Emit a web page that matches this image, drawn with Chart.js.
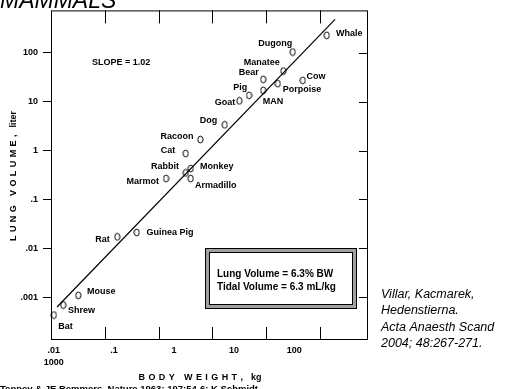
<!DOCTYPE html>
<html>
<head>
<meta charset="utf-8">
<script src="https://cdn.jsdelivr.net/npm/chart.js@4/dist/chart.umd.min.js"></script>
<style>
  html, body { margin: 0; padding: 0; background: #fff; }
  #wrap { width: 505px; height: 389px; }
</style>
</head>
<body>
<div id="wrap"><canvas id="c" width="505" height="389"></canvas></div>
<script>
// Lung volume against body weight across mammals, log–log scales
const animals = ['Whale', 'Dugong', 'Manatee', 'Bear', 'Cow', 'Porpoise', 'MAN', 'Pig', 'Goat', 'Dog',
  'Racoon', 'Cat', 'Rabbit', 'Monkey', 'Armadillo', 'Marmot', 'Guinea Pig', 'Rat', 'Mouse', 'Shrew', 'Bat'];
const bodyWeightKg = [1360, 316, 211, 89, 486, 166, 89, 48.4, 31.9, 17.0,
  5.97, 3.19, 3.19, 3.95, 3.95, 1.37, 0.389, 0.169, 0.0316, 0.0166, 0.0111];
const lungVolumeL = [228, 104, 42.5, 28.7, 27.4, 23.4, 17.1, 13.5, 10.4, 3.37,
  1.68, 0.868, 0.348, 0.428, 0.267, 0.267, 0.0210, 0.0171, 0.00108, 0.000686, 0.000428];

// regression line ends (slope 1.02)
const fitWeightKg = [0.0127, 1945];
const fitVolumeL = [0.000625, 484];

const yTickValues = [0.001, 0.01, 0.1, 1, 10, 100];
const yTickLabels = ['.001', '.01', '.1', '1', '10', '100'];
const xTickValues = [0.01, 0.1, 1, 10, 100];
const xTickLabels = [['.01', '1000'], '.1', '1', '10', '100'];
const xMarkValues = [0.1, 1, 10, 100, 1000];

const slopeText = 'SLOPE = 1.02';
const boxLines = ['Lung Volume = 6.3% BW', 'Tidal Volume = 6.3 mL/kg'];
const citation = ['Villar, Kacmarek,', 'Hedenstierna.', 'Acta Anaesth Scand', '2004; 48:267-271.'];
const sourceNote = 'Tenney & JE Remmers, Nature 1963; 197:54-6; K Schmidt';

// where each name sits relative to its marker (px)
const labelOffsets = {
  'Whale': [22.6, -2.3], 'Dugong': [-17.5, -8.4], 'Manatee': [-21.6, -8], 'Bear': [-14.5, -7.3],
  'Cow': [13.3, -3.3], 'Porpoise': [24.3, 5.7], 'MAN': [9.7, 11], 'Pig': [-8.7, -8.3],
  'Goat': [-14.3, 1.7], 'Dog': [-16.2, -3.8], 'Racoon': [-23.3, -3.3], 'Cat': [-17.7, -3.3],
  'Rabbit': [-20.7, -6], 'Monkey': [26, -1.6], 'Armadillo': [25.1, 6.7], 'Marmot': [-23.3, 3.4],
  'Guinea Pig': [33.3, 0.4], 'Rat': [-14.8, 2.6], 'Mouse': [23, -3.6], 'Shrew': [18.2, 5.7], 'Bat': [11.5, 11]
};

const FONT = '"Liberation Sans", Arial, Helvetica, sans-serif';

// open "O" marker
const ring = document.createElement('canvas');
ring.width = 7; ring.height = 9;
(function () {
  const g = ring.getContext('2d');
  g.strokeStyle = '#000'; g.lineWidth = 1;
  g.beginPath(); g.ellipse(3.5, 4.5, 2.6, 3.4, 0, 0, Math.PI * 2); g.stroke();
})();

// letter-spaced text runs, centred on cx
function drawRuns(ctx, runs, cx, y, gap) {
  const meas = runs.map(r => {
    const ws = [...r.t].map(c => ctx.measureText(c).width);
    return { ws, w: ws.reduce((a, b) => a + b, 0) + r.s * (ws.length - 1) };
  });
  const total = meas.reduce((a, b) => a + b.w, 0) + gap * (runs.length - 1);
  let x = cx - total / 2;
  ctx.textAlign = 'left';
  runs.forEach((r, i) => {
    [...r.t].forEach((c, j) => { ctx.fillText(c, x, y); x += meas[i].ws[j] + r.s; });
    x += gap - r.s;
  });
}

const decor = {
  id: 'decor',
  beforeDatasetsDraw(chart) {
    const { ctx, chartArea: a, scales } = chart;
    ctx.save();
    ctx.strokeStyle = '#000';
    ctx.lineWidth = 1;
    ctx.strokeRect(a.left + 0.5, a.top + 0.5, a.right - a.left - 1, a.bottom - a.top - 1);
    ctx.beginPath();
    xMarkValues.forEach(v => {
      const x = Math.round(scales.x.getPixelForValue(v)) + 0.5;
      ctx.moveTo(x, a.top); ctx.lineTo(x, a.top + 13);
      ctx.moveTo(x, a.bottom); ctx.lineTo(x, a.bottom - 13);
    });
    yTickValues.forEach(v => {
      const y = Math.round(scales.y.getPixelForValue(v)) + 0.5;
      ctx.moveTo(a.right, y); ctx.lineTo(a.right - 9, y);
    });
    ctx.stroke();
    ctx.restore();
  },
  afterDatasetsDraw(chart) {
    const { ctx, scales } = chart;
    ctx.save();
    ctx.fillStyle = '#000';

    // point names
    ctx.font = 'bold 9px ' + FONT;
    ctx.textAlign = 'center';
    ctx.textBaseline = 'middle';
    animals.forEach((name, i) => {
      const x = scales.x.getPixelForValue(bodyWeightKg[i]);
      const y = scales.y.getPixelForValue(lungVolumeL[i]);
      const o = labelOffsets[name];
      ctx.fillText(name, x + o[0], y + o[1]);
    });

    ctx.textAlign = 'left';
    ctx.fillText(slopeText, 92, 63);

    // double-framed note
    ctx.fillStyle = '#000'; ctx.fillRect(205, 248, 152, 61);
    ctx.fillStyle = '#a0a0a0'; ctx.fillRect(206, 249, 150, 59);
    ctx.fillStyle = '#000'; ctx.fillRect(209, 252, 144, 53);
    ctx.fillStyle = '#fff'; ctx.fillRect(210, 253, 142, 51);
    ctx.fillStyle = '#000';
    ctx.font = 'bold 10px ' + FONT;
    ctx.textBaseline = 'alphabetic';
    ctx.fillText(boxLines[0], 217, 277);
    ctx.fillText(boxLines[1], 217, 290);

    // axis titles
    ctx.font = 'bold 9px ' + FONT;
    ctx.textBaseline = 'middle';
    drawRuns(ctx, [{ t: 'BODY WEIGHT,', s: 3.4 }, { t: 'kg', s: 0 }], 200, 378, 8);
    ctx.save();
    ctx.translate(14, 176);
    ctx.rotate(-Math.PI / 2);
    drawRuns(ctx, [{ t: 'LUNG VOLUME,', s: 3.4 }, { t: 'liter', s: 0 }], 0, 0, 7);
    ctx.restore();

    // heading
    ctx.textAlign = 'left';
    ctx.textBaseline = 'alphabetic';
    ctx.font = 'italic 23px ' + FONT;
    ctx.fillText('MAMMALS', 0, 7.5);

    // reference
    ctx.font = 'italic 12.5px ' + FONT;
    citation.forEach((line, i) => ctx.fillText(line, 381, 297.5 + 16.6 * i));

    // source line along the bottom edge
    ctx.font = 'bold 9.5px ' + FONT;
    ctx.fillText(sourceNote, 0, 391.5);
    ctx.restore();
  }
};

new Chart(document.getElementById('c'), {
  type: 'scatter',
  data: {
    datasets: [
      {
        label: 'fit',
        data: fitWeightKg.map((x, i) => ({ x, y: fitVolumeL[i] })),
        showLine: true, borderColor: '#000', borderWidth: 1.2,
        pointRadius: 0, fill: false
      },
      {
        label: 'Mammals',
        data: bodyWeightKg.map((x, i) => ({ x, y: lungVolumeL[i] })),
        pointStyle: ring, pointRadius: 4, showLine: false, clip: false
      }
    ]
  },
  options: {
    responsive: false,
    animation: false,
    events: [],
    layout: { padding: { left: 0, top: 10, right: 137, bottom: 0 } },
    plugins: { legend: { display: false }, tooltip: { enabled: false } },
    scales: {
      x: { type: 'logarithmic', display: false, min: 0.0098, max: 8000 },
      y: {
        type: 'logarithmic', position: 'left', min: 1.32e-4, max: 740,
        afterFit(s) { s.width = 51; },
        afterBuildTicks(s) { s.ticks = yTickValues.map(v => ({ value: v })); },
        border: { display: false },
        grid: { drawOnChartArea: false, drawTicks: true, tickLength: 8, color: '#000', lineWidth: 1 },
        ticks: {
          color: '#000', padding: 5, autoSkip: false,
          font: { family: FONT, size: 9, weight: 'bold' },
          callback: (v, i) => yTickLabels[i]
        }
      },
      xl: {
        type: 'logarithmic', position: 'bottom', min: 0.00898, max: 1690,
        afterFit(s) { s.height = 49; },
        afterBuildTicks(s) { s.ticks = xTickValues.map(v => ({ value: v })); },
        border: { display: false },
        grid: { display: false, drawTicks: false },
        ticks: {
          color: '#000', padding: 4, autoSkip: false, maxRotation: 0,
          font: { family: FONT, size: 9, weight: 'bold', lineHeight: 1.35 },
          callback: (v, i) => xTickLabels[i]
        }
      }
    }
  },
  plugins: [decor]
});
</script>
</body>
</html>
